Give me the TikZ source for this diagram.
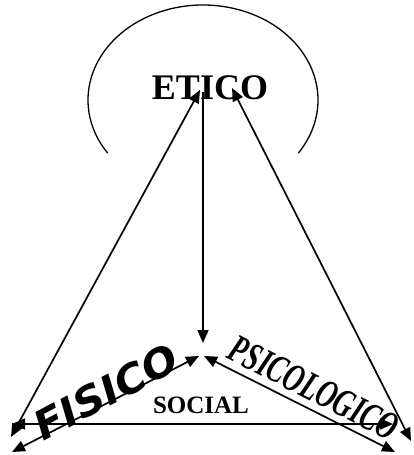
\documentclass[tikz,border=0pt]{standalone}
\usepackage{fontspec}
\setmainfont{Liberation Serif}
\newfontfamily\heavysans{DejaVu Sans}
\usetikzlibrary{arrows.meta}
\begin{document}
\begin{tikzpicture}[x=1pt,y=-1pt,
  conn/.style={line width=1.7pt,draw=black},
  tip/.style={-{Triangle[length=13pt,width=11pt]}},
  both/.style={{Triangle[length=13pt,width=11pt]}-{Triangle[length=13pt,width=11pt]}},
  lbl/.style={inner sep=0pt,font=\bfseries}]
\useasboundingbox (0,0) rectangle (413,455);
% arc around ETICO
\draw[line width=1.3pt] (203,100) ++(146:115 and 95) arc[start angle=146,end angle=394,x radius=115,y radius=95];
\node[lbl,font=\fontsize{36}{36}\selectfont\bfseries] (etico) at (210,88) {ETICO};
% endpoints
\coordinate (eL) at (200,90);
\coordinate (eM) at (203,92);
\coordinate (eR) at (232,88);
\coordinate (bl) at (11,437);
\coordinate (br) at (411,441);
\coordinate (cm) at (203,343);
\coordinate (hl) at (12,424);
\coordinate (hr) at (393,424);
\coordinate (fl) at (12,452);
\coordinate (fr) at (199,356);
\coordinate (pl) at (204,356);
\coordinate (pr) at (395,452);
% connectors
\draw[conn,both] (bl) -- (eL);
\draw[conn,tip] (eM) -- (cm);
\draw[conn,both] (br) -- (eR);
\draw[conn,both] (hl) -- (hr);
\draw[conn,both] (fl) -- (fr);
\draw[conn,both] (pl) -- (pr);
% labels
\node[lbl,font=\fontsize{25}{25}\selectfont\bfseries] (social) at (201,405) {SOCIAL};
\node[inner sep=0pt,rotate=28,xscale=1.05,font=\fontsize{40}{40}\selectfont\heavysans\bfseries\itshape] (fisico) at (106,392) {FISICO};
\node[inner sep=0pt,rotate=-27,xscale=0.68,font=\fontsize{40}{40}\selectfont\bfseries\itshape] (psico) at (314,388) {PSICOLOGICO};
\end{tikzpicture}
\end{document}
